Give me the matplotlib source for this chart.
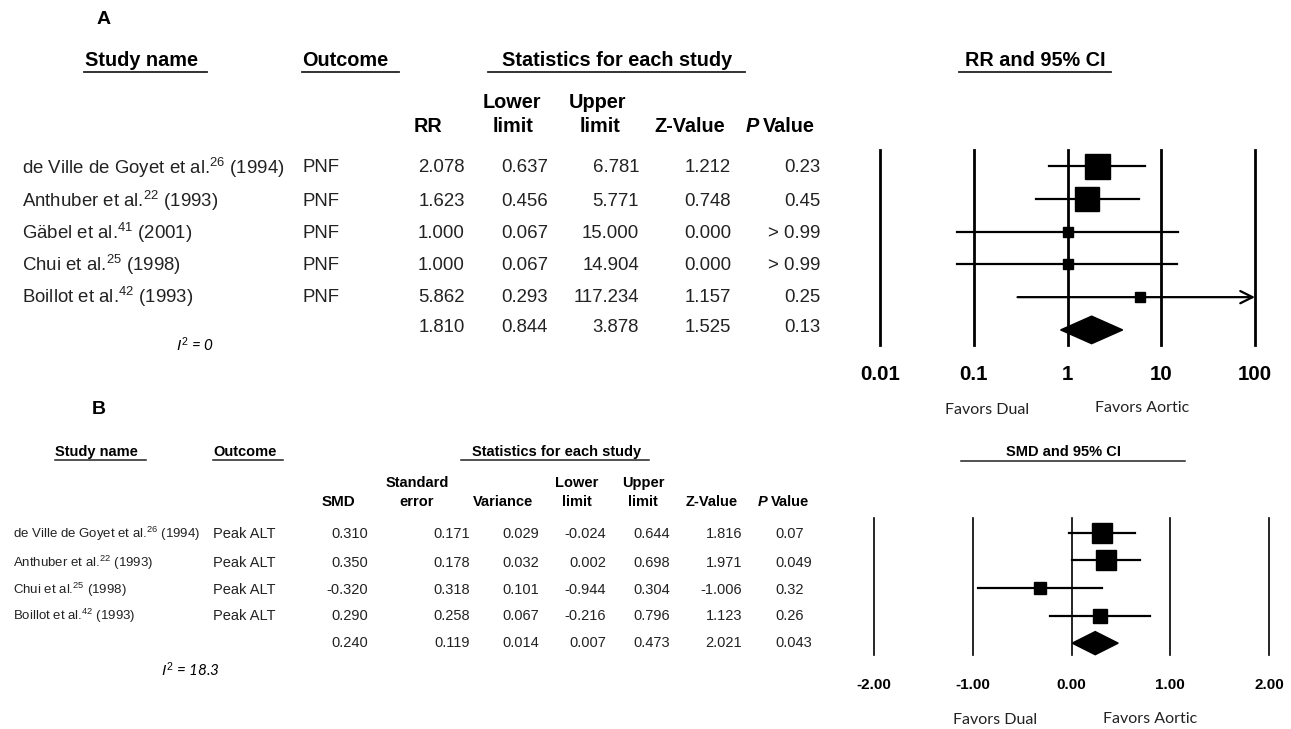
import matplotlib
matplotlib.use('Agg')
import matplotlib.pyplot as plt
from matplotlib.lines import Line2D
from matplotlib.transforms import blended_transform_factory

plt.rcParams['font.family'] = ['Liberation Sans', 'DejaVu Sans']
plt.rcParams['mathtext.fontset'] = 'custom'
plt.rcParams['mathtext.rm'] = 'Liberation Sans'
plt.rcParams['mathtext.it'] = 'Liberation Sans:italic'
plt.rcParams['mathtext.bf'] = 'Liberation Sans:bold'

# ---- panel A data (RR) ----
studies_a = ['de Ville de Goyet et al.$^{26}$ (1994)', 'Anthuber et al.$^{22}$ (1993)',
             'Gäbel et al.$^{41}$ (2001)', 'Chui et al.$^{25}$ (1998)', 'Boillot et al.$^{42}$ (1993)']
outcome_a = ['PNF', 'PNF', 'PNF', 'PNF', 'PNF']
rr_a = [2.078, 1.623, 1.000, 1.000, 5.862, 1.810]
lower_a = [0.637, 0.456, 0.067, 0.067, 0.293, 0.844]
upper_a = [6.781, 5.771, 15.000, 14.904, 117.234, 3.878]
z_a = [1.212, 0.748, 0.000, 0.000, 1.157, 1.525]
p_a = ['0.23', '0.45', '> 0.99', '> 0.99', '0.25', '0.13']
ticks_a = [0.01, 0.1, 1, 10, 100]
tick_labels_a = ['0.01', '0.1', '1', '10', '100']

# ---- panel B data (SMD) ----
studies_b = ['de Ville de Goyet et al.$^{26}$ (1994)', 'Anthuber et al.$^{22}$ (1993)',
             'Chui et al.$^{25}$ (1998)', 'Boillot et al.$^{42}$ (1993)']
outcome_b = ['Peak ALT', 'Peak ALT', 'Peak ALT', 'Peak ALT']
smd_b = [0.310, 0.350, -0.320, 0.290, 0.240]
se_b = [0.171, 0.178, 0.318, 0.258, 0.119]
var_b = [0.029, 0.032, 0.101, 0.067, 0.014]
lower_b = [-0.024, 0.002, -0.944, -0.216, 0.007]
upper_b = [0.644, 0.698, 0.304, 0.796, 0.473]
z_b = [1.816, 1.971, -1.006, 1.123, 2.021]
p_b = ['0.07', '0.049', '0.32', '0.26', '0.043']
ticks_b = [-2, -1, 0, 1, 2]
tick_labels_b = ['-2.00', '-1.00', '0.00', '1.00', '2.00']

W, H = 1291, 729
fig = plt.figure(figsize=(W / 100, H / 100), dpi=100)


def fx(x):
    return x / W


def fy(y):
    return 1 - y / H


def txt(x, y, s, **kw):
    kw.setdefault('va', 'center')
    fig.text(fx(x), fy(y), s, **kw)


def uline(x0, x1, y, lw=1.3):
    fig.add_artist(Line2D([fx(x0), fx(x1)], [fy(y), fy(y)], color='#222222', lw=lw,
                          transform=fig.transFigure))


def calibri(x, y, s, size):
    txt(x, y, s, ha='center', family=['Lato', 'DejaVu Sans'], size=size, color='#222222')


# ================= PANEL A =================
txt(97, 20, 'A', weight='bold', size=14)
hs = 14.3
txt(85, 60, 'Study name', weight='bold', size=hs)
uline(84, 207, 72)
txt(302, 60, 'Outcome', weight='bold', size=hs)
uline(302, 399, 72)
txt(617, 60, 'Statistics for each study', ha='center', weight='bold', size=hs)
uline(488, 745, 72)
txt(1035, 60, 'RR and 95% CI', ha='center', weight='bold', size=hs)
uline(959, 1111, 72)

txt(428, 127, 'RR', ha='center', weight='bold', size=hs)
txt(512, 102, 'Lower', ha='center', weight='bold', size=hs)
txt(513, 127, 'limit', ha='center', weight='bold', size=hs)
txt(597, 102, 'Upper', ha='center', weight='bold', size=hs)
txt(600, 127, 'limit', ha='center', weight='bold', size=hs)
txt(690, 127, 'Z-Value', ha='center', weight='bold', size=hs)
txt(746, 127, 'P', ha='left', weight='bold', style='italic', size=hs)
txt(763, 127, 'Value', ha='left', weight='bold', size=hs)

rows_a = [168, 201, 233, 265, 297, 328]
ds = 13.4
for i, y in enumerate(rows_a):
    if i < len(studies_a):
        txt(22, y, studies_a[i], size=ds, color='#222222')
        txt(302, y, outcome_a[i], size=ds, color='#222222')
    txt(465, y, f'{rr_a[i]:.3f}', ha='right', size=ds, color='#222222')
    txt(548, y, f'{lower_a[i]:.3f}', ha='right', size=ds, color='#222222')
    txt(639, y, f'{upper_a[i]:.3f}', ha='right', size=ds, color='#222222')
    txt(731, y, f'{z_a[i]:.3f}', ha='right', size=ds, color='#222222')
    txt(820, y, p_a[i], ha='right', size=ds, color='#222222')
txt(195, 345, r'$\mathit{I}^{\mathit{2}}$ = 0', ha='center', size=11, style='italic',
    family=['Lato', 'DejaVu Sans'])

# forest A
axa = fig.add_axes([fx(880), fy(345), fx(1255) - fx(880), (345 - 150) / H])
axa.set_xscale('log')
axa.set_xlim(0.01, 100)
axa.set_ylim(5.46, -0.49)
axa.axis('off')
for t in ticks_a:
    axa.axvline(t, color='black', lw=2, clip_on=False)
sq_a = [18, 17, 7.5, 7.5, 7]
for i in range(5):
    hi = min(upper_a[i], 100)
    if upper_a[i] > 100:
        axa.annotate('', xy=(hi, i), xytext=(lower_a[i], i),
                     arrowprops=dict(arrowstyle='->', lw=1.6, mutation_scale=22,
                                     shrinkA=0, shrinkB=0, color='black'),
                     annotation_clip=False)
    else:
        axa.plot([lower_a[i], hi], [i, i], color='black', lw=1.6, clip_on=False)
    axa.plot(rr_a[i], i, marker='s', ms=sq_a[i], color='black', clip_on=False)
k = 5
axa.fill([lower_a[k], rr_a[k], upper_a[k], rr_a[k]], [k, k - 0.42, k, k + 0.42],
         color='black', clip_on=False)
tra = blended_transform_factory(axa.transData, fig.transFigure)
for t, lab in zip(ticks_a, tick_labels_a):
    axa.text(t, fy(374), lab, transform=tra, ha='center', va='center', weight='bold', size=14.8)
calibri(987, 410, 'Favors Dual', 11.5)
calibri(1142, 408, 'Favors Aortic', 11.5)

# ================= PANEL B =================
txt(92, 409, 'B', weight='bold', size=14)
hb = 10.5
txt(55, 452, 'Study name', weight='bold', size=hb)
uline(55, 146, 460, lw=1.1)
txt(213, 452, 'Outcome', weight='bold', size=hb)
uline(213, 283, 460, lw=1.1)
txt(557, 452, 'Statistics for each study', ha='center', weight='bold', size=hb)
uline(461, 649, 460, lw=1.1)
txt(1064, 452, 'SMD and 95% CI', ha='center', weight='bold', size=hb)
uline(961, 1185, 461, lw=1.1)

txt(338, 502, 'SMD', ha='center', weight='bold', size=hb + 0.5)
txt(417, 483, 'Standard', ha='center', weight='bold', size=hb)
txt(417, 502, 'error', ha='center', weight='bold', size=hb)
txt(503, 502, 'Variance', ha='center', weight='bold', size=hb)
txt(577, 483, 'Lower', ha='center', weight='bold', size=hb)
txt(577, 502, 'limit', ha='center', weight='bold', size=hb)
txt(643, 483, 'Upper', ha='center', weight='bold', size=hb)
txt(643, 502, 'limit', ha='center', weight='bold', size=hb)
txt(712, 502, 'Z-Value', ha='center', weight='bold', size=hb)
txt(758, 502, 'P', ha='left', weight='bold', style='italic', size=hb)
txt(771, 502, 'Value', ha='left', weight='bold', size=hb)

rows_b = [534, 563, 590, 616, 643]
db = 10.5
for i, y in enumerate(rows_b):
    if i < len(studies_b):
        txt(13, y, studies_b[i], size=9.5, color='#222222')
        txt(213, y, outcome_b[i], size=db, color='#222222')
    txt(368, y, f'{smd_b[i]:.3f}', ha='right', size=db, color='#222222')
    txt(470, y, f'{se_b[i]:.3f}', ha='right', size=db, color='#222222')
    txt(539, y, f'{var_b[i]:.3f}', ha='right', size=db, color='#222222')
    txt(606, y, f'{lower_b[i]:.3f}', ha='right', size=db, color='#222222')
    txt(670, y, f'{upper_b[i]:.3f}', ha='right', size=db, color='#222222')
    txt(742, y, f'{z_b[i]:.3f}', ha='right', size=db, color='#222222')
    txt(775, y, p_b[i], ha='left', size=db, color='#222222')
txt(190, 670, r'$\mathit{I}^{\mathit{2}}$ = 18.3', ha='center', size=11, style='italic',
    family=['Lato', 'DejaVu Sans'])

# forest B
axb = fig.add_axes([fx(874), fy(655), fx(1269) - fx(874), (655 - 518) / H])
axb.set_xlim(-2, 2)
axb.set_ylim(4.43, -0.54)
axb.axis('off')
for t in ticks_b:
    axb.axvline(t, color='black', lw=1.2, clip_on=False)
sq_b = [15, 15, 9, 10]
for i in range(4):
    axb.plot([lower_b[i], upper_b[i]], [i, i], color='black', lw=1.6)
    axb.plot(smd_b[i], i, marker='s', ms=sq_b[i], color='black', clip_on=False)
k = 4
axb.fill([lower_b[k], smd_b[k], upper_b[k], smd_b[k]], [k, k - 0.42, k, k + 0.42],
         color='black', clip_on=False)
trb = blended_transform_factory(axb.transData, fig.transFigure)
for t, lab in zip(ticks_b, tick_labels_b):
    axb.text(t, fy(685), lab, transform=trb, ha='center', va='center', weight='bold', size=11)
calibri(995, 720, 'Favors Dual', 11.5)
calibri(1150, 719, 'Favors Aortic', 11.5)

plt.savefig('out.png', dpi=100)
